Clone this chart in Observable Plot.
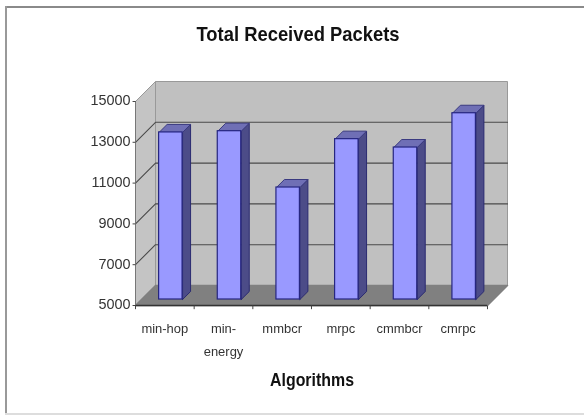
<!DOCTYPE html>
<html><head><meta charset="utf-8">
<script src="https://cdn.jsdelivr.net/npm/d3@7"></script>
<script src="https://cdn.jsdelivr.net/npm/@observablehq/plot@0.6"></script>
<style>
html,body{margin:0;padding:0;background:#fff;}
#c{position:relative;width:584px;height:415px;overflow:hidden;}
#c svg{position:absolute;left:0;top:0;filter:blur(0.4px);}
</style></head><body><div id="c"></div>
<script>
const algorithms = ["min-hop","min-\nenergy","mmbcr","mrpc","cmmbcr","cmrpc"];
const packets = [13190,13250,10490,12860,12450,14130];
const yTicks = [5000,7000,9000,11000,13000,15000];

const depthX = 0.341, depthY = 980;
const slots = algorithms.map((_,i)=>i);
const P = (x,y,z)=>({x:x+z*depthX,y:y+z*depthY});
const yMin = 5000, yMax = 15000, N = algorithms.length;
const bars = packets.map((v,i)=>({i,v,l:i+0.30,r:i+0.70,zf:0.3,zb:0.7}));
const poly = (id,pts)=>pts.map(p=>({id,...p}));

const wall = poly("w",[P(0,yMin,1),P(N,yMin,1),P(N,yMax,1),P(0,yMax,1),P(0,yMin,1)]);
const side = poly("s",[P(0,yMin,0),P(0,yMin,1),P(0,yMax,1),P(0,yMax,0),P(0,yMin,0)]);
const floor = poly("f",[P(0,yMin,0),P(N,yMin,0),P(N,yMin,1),P(0,yMin,1),P(0,yMin,0)]);
const grid = yTicks.slice(1,-1).flatMap(t=>poly("g"+t,[P(0,t,0),P(0,t,1),P(N,t,1)]));
const sides = bars.flatMap(b=>poly("s"+b.i,[P(b.r,yMin,b.zf),P(b.r,yMin,b.zb),P(b.r,b.v,b.zb),P(b.r,b.v,b.zf),P(b.r,yMin,b.zf)]));
const tops = bars.flatMap(b=>poly("t"+b.i,[P(b.l,b.v,b.zf),P(b.r,b.v,b.zf),P(b.r,b.v,b.zb),P(b.l,b.v,b.zb),P(b.l,b.v,b.zf)]));
const fronts = bars.map(b=>{const a=P(b.l,yMin,b.zf),c=P(b.r,b.v,b.zf);return {x1:a.x,x2:c.x,y1:a.y,y2:c.y};});
const line = (d,o)=>Plot.line(d,{x:"x",y:"y",z:"id",curve:"linear",...o});
const sans = "'Liberation Sans',Arial,sans-serif";

const chart = Plot.plot({
  width:584,height:415,
  marginLeft:135,marginRight:77,marginTop:81,marginBottom:110,
  style:{background:"transparent",fontFamily:sans},
  x:{domain:[0,N+depthX],axis:null},
  y:{domain:[yMin,yMax+depthY],axis:null},
  marks:[
    line(wall,{fill:"#c0c0c0",stroke:"#999",strokeWidth:1}),
    line(side,{fill:"#c4c4c4",stroke:"#999",strokeWidth:1}),
    line(floor,{fill:"#808080",stroke:"#808080"}),
    line(grid,{stroke:"#4a4a4a",strokeWidth:1.1}),
    line(sides,{fill:"#4c4c88",stroke:"#2a2a70",strokeWidth:1}),
    line(tops,{fill:"#6f6fb5",stroke:"#3a3a80",strokeWidth:1}),
    Plot.rect(fronts,{x1:"x1",x2:"x2",y1:"y1",y2:"y2",fill:"#9999ff",stroke:"#262680",strokeWidth:1.2}),
    Plot.ruleY([yMin],{x1:0,x2:N,stroke:"#333",strokeWidth:1.5}),
    Plot.ruleX([0],{y1:yMin,y2:yMax,stroke:"#777",strokeWidth:1}),
    Plot.link(d3.range(N+1),{x1:d=>d,x2:d=>d,y1:()=>yMin,y2:()=>yMin-180,stroke:"#444"}),
    Plot.link(yTicks,{x1:()=>0,x2:()=>-0.05,y1:d=>d,y2:d=>d,stroke:"#444"}),
    Plot.text(yTicks,{y:d=>d,x:()=>0,text:d=>String(d),textAnchor:"end",dx:-5,dy:-1,fontSize:15,fill:"#333"}),
    Plot.text(slots,{x:d=>d+0.5,y:()=>yMin,text:d=>algorithms[d],lineAnchor:"top",dy:12,fontSize:13.5,lineHeight:1.65,fill:"#333"})
  ]
});
document.getElementById("c").appendChild(chart);

const svg = d3.select(chart);
const squeeze=(el,k)=>{el.setAttribute("textLength",el.getComputedTextLength()*k);el.setAttribute("lengthAdjust","spacingAndGlyphs");};
svg.selectAll("text").each(function(){
  const big=this.getAttribute("font-size")==="15";
  const spans=this.querySelectorAll("tspan");
  if(spans.length) spans.forEach(s=>squeeze(s,0.96)); else squeeze(this,big?0.9:0.96);
});
const add=(t,x,y,s,w)=>svg.append("text").attr("x",x).attr("y",y).attr("text-anchor","middle").attr("font-family",sans).attr("font-size",s).attr("font-weight","bold").attr("fill","#111").attr("textLength",w).attr("lengthAdjust","spacingAndGlyphs").text(t);
add("Total Received Packets",298,41,20.5,203);
add("Algorithms",312,386,17.5,84);
</script>
<div style="position:absolute;left:5px;top:6px;width:579px;height:2px;background:#8a8a8a"></div>
<div style="position:absolute;left:5px;top:6px;width:2px;height:408px;background:#999"></div>
<div style="position:absolute;left:5px;top:413px;width:579px;height:2px;background:#ddd"></div>
</body></html>
